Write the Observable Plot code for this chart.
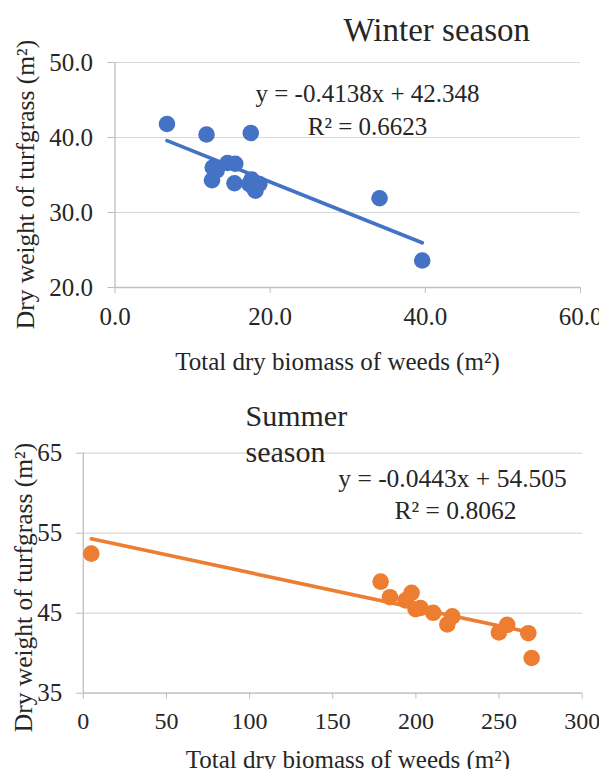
<!DOCTYPE html>
<html>
<head>
<meta charset="utf-8">
<script src="https://cdn.jsdelivr.net/npm/d3@7"></script>
<script src="https://cdn.jsdelivr.net/npm/@observablehq/plot@0.6"></script>
<style>
  html, body { margin: 0; padding: 0; background: white; }
  #wrap { position: relative; width: 599px; height: 769px; overflow: hidden; background: white; }
  #wrap svg { position: absolute; left: 0; }
  #wrap svg text { font-family: 'Liberation Serif', 'Times New Roman', serif; }
</style>
</head>
<body>
<div id="wrap"></div>
<script>
// ---------- Winter season data ----------
const winterX = [6.7, 11.8, 17.5, 12.6, 13.1, 12.5, 14.5, 15.5, 15.4, 17.3, 17.8, 18.1, 18.6, 17.6, 34.1, 39.6];
const winterY = [41.8, 40.4, 40.6, 36.0, 35.6, 34.3, 36.6, 36.5, 33.9, 33.8, 33.4, 32.9, 33.8, 34.4, 31.9, 23.6];
const winterXTicks = [0, 20, 40, 60];
const winterYTicks = [20, 30, 40, 50];
const winterSlope = -0.4138;
const winterIntercept = 42.348;
const winterEq = "y = -0.4138x + 42.348";
const winterR2 = "R² = 0.6623";
const winterTitle = ["Winter season"];

// ---------- Summer season data ----------
const summerX = [4.8, 178.8, 184.4, 193.8, 197.4, 199.8, 202.8, 210.4, 218.9, 221.9, 249.9, 254.9, 267.6, 269.6];
const summerY = [52.45, 48.95, 47.0, 46.6, 47.55, 45.5, 45.65, 45.05, 43.6, 44.6, 42.6, 43.55, 42.5, 39.4];
const summerXTicks = [0, 50, 100, 150, 200, 250, 300];
const summerYTicks = [35, 45, 55, 65];
const summerSlope = -0.0443;
const summerIntercept = 54.505;
const summerEq = "y = -0.0443x + 54.505";
const summerR2 = "R² = 0.8062";
const summerTitle = ["Summer", "season"];

const xLabel = "Total dry biomass of weeds (m²)";
const yLabel = "Dry weight of turfgrass (m²)";

const FONT = "'Liberation Serif', 'Times New Roman', serif";
const TEXT = "#262626";
const AXIS = "#bfbfbf";
const GRID = "#d9d9d9";

function trend(xs, slope, intercept) {
  const [x0, x1] = d3.extent(xs);
  return [x0, x1].map(x => ({x, y: slope * x + intercept}));
}

// text placed by pixel offset from the frame's top-left corner
function note(m, str, px, py, opts = {}) {
  return Plot.text([str], {
    text: d => d,
    frameAnchor: "top-left",
    lineAnchor: "middle",
    dx: px - m.left,
    dy: py - m.top,
    fill: TEXT,
    fontFamily: FONT,
    ...opts
  });
}

function panel(cfg) {
  const m = cfg.margin;
  const pts = cfg.xs.map((x, i) => ({x, y: cfg.ys[i]}));
  const line = trend(cfg.xs, cfg.slope, cfg.intercept);
  const marks = [
    Plot.gridY(cfg.yTicks, {stroke: GRID, strokeOpacity: 1, strokeWidth: 1.2}),
    Plot.ruleX([cfg.xDomain[0]], {stroke: AXIS, strokeWidth: 1.3}),
    Plot.ruleY([cfg.yDomain[0]], {stroke: AXIS, strokeWidth: 1.3}),
    Plot.axisY(cfg.yTicks, {tickSize: 7, tickPadding: cfg.yPad, stroke: AXIS, fill: TEXT, fontSize: cfg.yFont, fontFamily: FONT, label: null, tickFormat: cfg.fmt}),
    Plot.axisX(cfg.xTicks, {tickSize: 6, tickPadding: cfg.xPad, stroke: AXIS, fill: TEXT, fontSize: cfg.xFont, fontFamily: FONT, label: null, tickFormat: cfg.fmt}),
    Plot.dot(pts, {x: "x", y: "y", r: 8.3, fill: cfg.color, stroke: "none"}),
    Plot.line(line, {x: "x", y: "y", stroke: cfg.color, strokeWidth: 3.6}),
    ...cfg.notes
  ];
  const svg = Plot.plot({
    width: 599,
    height: cfg.height,
    marginLeft: m.left, marginRight: m.right, marginTop: m.top, marginBottom: m.bottom,
    x: {domain: cfg.xDomain},
    y: {domain: cfg.yDomain},
    style: {fontFamily: FONT, fontSize: "25px", color: TEXT, background: "white", overflow: "visible"},
    marks
  });
  svg.style.top = cfg.top + "px";
  return svg;
}

const wrap = document.getElementById("wrap");

// Winter panel
const mW = {left: 114.5, right: 19, top: 62, bottom: 93};
wrap.appendChild(panel({
  top: 0, height: 380, margin: mW,
  xs: winterX, ys: winterY, slope: winterSlope, intercept: winterIntercept,
  xDomain: [0, 60], yDomain: [20, 50], xTicks: winterXTicks, yTicks: winterYTicks,
  fmt: d => d.toFixed(1), yPad: 15, xPad: 14, yFont: 25, xFont: 25,
  color: "#4472C4",
  notes: [
    note(mW, winterTitle[0], 343, 29.5, {textAnchor: "start", fontSize: 33}),
    note(mW, winterEq, 367, 93.7, {textAnchor: "middle", fontSize: 25}),
    note(mW, winterR2, 367, 126, {textAnchor: "middle", fontSize: 25}),
    note(mW, xLabel, 337, 361, {textAnchor: "middle", fontSize: 25}),
    note(mW, yLabel, 25, 184, {textAnchor: "middle", fontSize: 25.5, rotate: -90})
  ]
}));

// Summer panel (y offsets relative to its own svg, which starts at 380)
const mS = {left: 82.8, right: 17.3, top: 72.7, bottom: 76.3};
wrap.appendChild(panel({
  top: 380, height: 389, margin: mS,
  xs: summerX, ys: summerY, slope: summerSlope, intercept: summerIntercept,
  xDomain: [0, 300], yDomain: [35, 65], xTicks: summerXTicks, yTicks: summerYTicks,
  fmt: d => String(d), yPad: 14, xPad: 13, yFont: 25, xFont: 24,
  color: "#ED7D31",
  notes: [
    note(mS, summerTitle[0], 245, 425 - 380 - 9.6, {textAnchor: "start", fontSize: 30}),
    note(mS, summerTitle[1], 245, 461.7 - 380 - 9.6, {textAnchor: "start", fontSize: 30}),
    note(mS, summerEq, 452, 486.7 - 380 - 8.2, {textAnchor: "middle", fontSize: 25.5}),
    note(mS, summerR2, 455, 518.3 - 380 - 8.2, {textAnchor: "middle", fontSize: 25.5}),
    note(mS, xLabel, 347.4, 759 - 380, {textAnchor: "middle", fontSize: 25}),
    note(mS, yLabel, 23, 587 - 380, {textAnchor: "middle", fontSize: 25.5, rotate: -90})
  ]
}));
</script>
</body>
</html>
